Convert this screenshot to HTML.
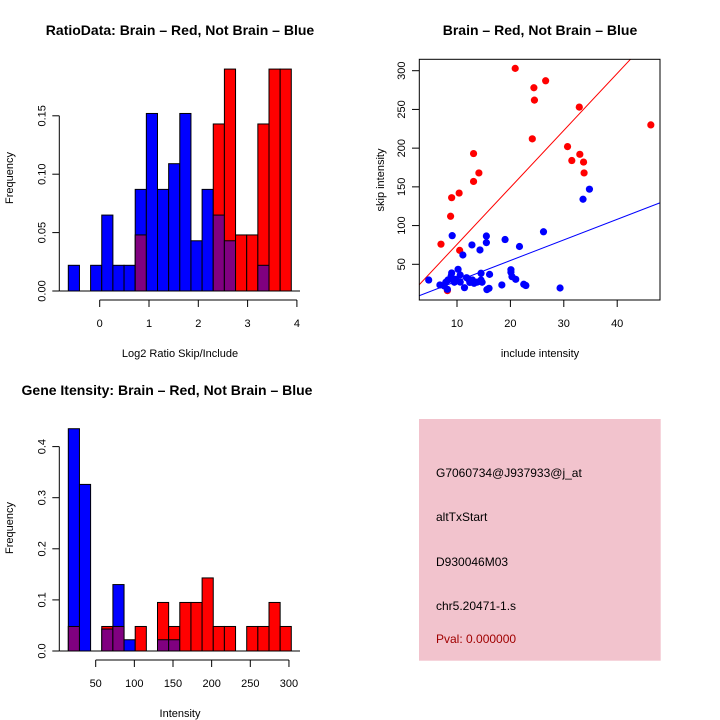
<!DOCTYPE html>
<html><head><meta charset="utf-8"><style>body{margin:0;background:#fff}svg{display:block;font-family:"Liberation Sans",sans-serif}</style></head>
<body>
<svg id="c" width="720" height="720" xmlns="http://www.w3.org/2000/svg"></svg>
<script>
// ---- data ----
const ratioBlue=[0.022,0,0.022,0.065,0.022,0.022,0.087,0.152,0.087,0.109,0.152,0.043,0.087,0.065,0.043,0,0,0.022,0,0];
const ratioRed=[0,0,0,0,0,0,0.048,0,0,0,0,0,0,0.143,0.190,0.048,0.048,0.143,0.190,0.190];
const ratioTicksX=[0,1,2,3,4];
const ratioTicksY=[0,0.05,0.10,0.15];
const intBlue=[0.435,0.326,0,0.043,0.130,0.022,0,0,0.022,0.022,0,0,0,0,0,0,0,0,0,0];
const intRed=[0.048,0,0,0.048,0.048,0,0.048,0,0.095,0.048,0.095,0.095,0.143,0.048,0.048,0,0.048,0.048,0.095,0.048];
const intTicksX=[50,100,150,200,250,300];
const intTicksY=[0,0.1,0.2,0.3,0.4];
const redX=[20.9,26.6,24.4,24.5,32.9,46.3,24.1,30.7,33.0,13.1,31.5,33.7,14.1,33.8,13.1,9.0,10.4,8.8,7.0,10.5,8.2];
const redY=[303,287,278,262,253,230,212,202,192,193,184,182,168,168,157,136,142,112,76,68,16];
const blueX=[34.8,33.6,26.2,9.1,15.5,19.0,15.5,12.8,21.7,14.3,11.1,10.2,20.1,20.1,9.0,14.5,16.1,20.3,4.7,21.0,8.3,9.8,11.8,12.9,9.5,10.6,12.4,13.8,14.7,6.8,7.6,22.5,22.9,18.4,11.4,16.0,15.6,29.3,8.2,9.5,10.6,8.9,12.2,13.2,7.9,14.5];
const blueY=[147,134,92,87,86.5,82,78,75,73,68.5,62,43.5,43,39.7,38.8,38.4,37,34,29.7,30.6,29.7,30.6,32.7,29.7,26.8,27,26.6,27,26.8,23.3,22,24.2,22.6,23.3,19.8,19,17.3,19.4,17.7,29.7,36.2,34.9,30.6,25.5,26.8,29.7];
const scTicksX=[10,20,30,40];
const scTicksY=[50,100,150,200,250,300];
const redFit=[2.1,7.36], blueFit=[1.7,2.66];
const infoLines=["G7060734@J937933@j_at","altTxStart","D930046M03","chr5.20471-1.s"];
const pval="Pval: 0.000000";

const NS="http://www.w3.org/2000/svg", svg=document.getElementById('c');
function mk(t,a,p){const e=document.createElementNS(NS,t);for(const k in a)e.setAttribute(k,a[k]);(p||svg).appendChild(e);return e;}
function txt(s,x,y,a,p){const e=mk('text',Object.assign({x:x,y:y,'font-size':12,'text-anchor':'middle',fill:'#000'},a),p);e.textContent=s;return e;}

function hist(g,blue,red,x0,bw,yf,y0){
  for(let i=0;i<blue.length;i++){
    const b=blue[i],r=red[i],x=x0+i*bw,mx=Math.max(b,r),mn=Math.min(b,r);
    if(mx>0){const e=mk('rect',{x:x,y:yf(mx),width:bw,height:y0-yf(mx),fill:b>=r?'#0000ff':'#ff0000',stroke:'#000','stroke-width':1},g);
      
      }
    if(mn>0){const e=mk('rect',{x:x,y:yf(mn),width:bw,height:y0-yf(mn),fill:'#800080',stroke:'#000','stroke-width':1},g);
      
      }
  }
}
function yaxis(g,ticks,yf,ax,fmt){
  mk('line',{x1:ax,x2:ax,y1:yf(ticks[0]),y2:yf(ticks[ticks.length-1]),stroke:'#000'},g);
  ticks.forEach(t=>{const y=yf(t);mk('line',{x1:ax-7,x2:ax,y1:y,y2:y,stroke:'#000'},g);
    txt(fmt(t),ax-14,y,{transform:`rotate(-90 ${ax-14} ${y})`,'font-size':11},g);});
}
function xaxis(g,ticks,xf,ay,fmt){
  mk('line',{x1:xf(ticks[0]),x2:xf(ticks[ticks.length-1]),y1:ay,y2:ay,stroke:'#000'},g);
  ticks.forEach(t=>{const x=xf(t);mk('line',{x1:x,x2:x,y1:ay,y2:ay+7,stroke:'#000'},g);txt(fmt(t),x,ay+27,{'font-size':11},g);});
}

// Panel 1
let g=mk('g',{});
let xf=v=>99.7+v*49.3, yf=v=>291-v*(58.4/0.05);
txt("RatioData: Brain \u2013 Red, Not Brain \u2013 Blue",180,35,{'font-weight':'bold','font-size':14,},g);
hist(g,ratioBlue,ratioRed,68.3,11.15,yf,291);
mk('line',{x1:59.3,x2:300,y1:291,y2:291,stroke:'#000'},g);
yaxis(g,ratioTicksY,yf,59.3,t=>t.toFixed(2));
xaxis(g,ratioTicksX,xf,300,t=>String(t));
txt("Log2 Ratio Skip/Include",180,357,{'font-size':11,},g);
txt("Frequency",13,178,{transform:'rotate(-90 13 178)','font-size':11,},g);

// Panel 2 scatter
g=mk('g',{});
let sx=v=>457+(v-10)*5.34, sy=v=>264.3-(v-50)*0.7744;
txt("Brain \u2013 Red, Not Brain \u2013 Blue",540,35,{'font-weight':'bold','font-size':14,},g);
const cp=mk('clipPath',{id:'sc'},g);mk('rect',{x:419.3,y:59.3,width:240.7,height:240.7},cp);
const inner=mk('g',{'clip-path':'url(#sc)'},g);
[[redFit,'#ff0000','red-fit-line'],[blueFit,'#0000ff','blue-fit-line']].forEach(([f,c,n])=>{
  const xa=2.9,xb=48.3;const l=mk('line',{x1:sx(xa),y1:sy(f[0]+f[1]*xa),x2:sx(xb),y2:sy(f[0]+f[1]*xb),stroke:c,'stroke-width':1},inner);
  
  });
redX.forEach((v,i)=>{const c=mk('circle',{cx:sx(v),cy:sy(redY[i]),r:3.6,fill:'#ff0000'},inner);
  
  });
blueX.forEach((v,i)=>{const c=mk('circle',{cx:sx(v),cy:sy(blueY[i]),r:3.6,fill:'#0000ff'},inner);
  
  });
mk('rect',{x:419.3,y:59.3,width:240.7,height:240.7,fill:'none',stroke:'#000'},g);
scTicksY.forEach(t=>{const y=sy(t);mk('line',{x1:412,x2:419.3,y1:y,y2:y,stroke:'#000'},g);txt(String(t),405,y,{transform:`rotate(-90 405 ${y})`,'font-size':11},g);});
scTicksX.forEach(t=>{const x=sx(t);mk('line',{x1:x,x2:x,y1:300,y2:307,stroke:'#000'},g);txt(String(t),x,327,{'font-size':11},g);});
txt("include intensity",540,357,{'font-size':11,},g);
txt("skip intensity",384,180,{transform:'rotate(-90 384 180)','font-size':11,},g);

// Panel 3
g=mk('g',{});
xf=v=>95.7+(v-50)*0.773; yf=v=>651-v*511;
txt("Gene Itensity: Brain \u2013 Red, Not Brain \u2013 Blue",167,395,{'font-weight':'bold','font-size':14,},g);
hist(g,intBlue,intRed,68.3,11.15,yf,651);
mk('line',{x1:59.3,x2:300,y1:651,y2:651,stroke:'#000'},g);
yaxis(g,intTicksY,yf,59.3,t=>t.toFixed(1));
xaxis(g,intTicksX,xf,660,t=>String(t));
txt("Intensity",180,717,{'font-size':11,},g);
txt("Frequency",13,528,{transform:'rotate(-90 13 528)','font-size':11,},g);

// Panel 4 info
g=mk('g',{});
mk('rect',{x:419,y:419,width:241.7,height:241.7,fill:'#f2c3cd'},g);
const ys=[477,521,566,610];
infoLines.forEach((s,i)=>txt(s,436,ys[i],{'text-anchor':'start','font-size':12},g));
txt(pval,436,643,{'text-anchor':'start','font-size':12,fill:'#a00000',},g);
</script>
</body></html>
